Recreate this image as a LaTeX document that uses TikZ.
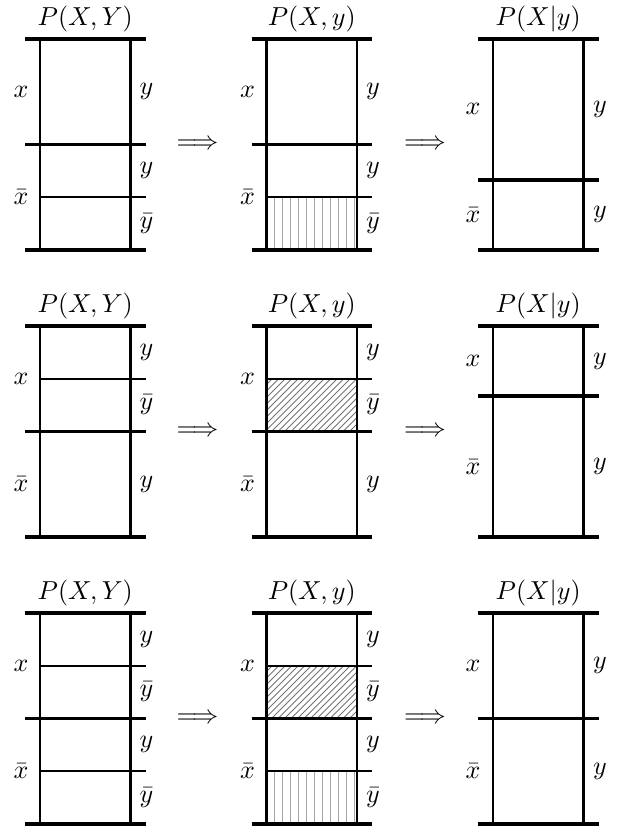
\documentclass[tikz,border=0pt]{standalone}
\begin{document}
\begin{tikzpicture}[x=0.3846pt,y=-0.3846pt,
  bar/.style={line width=1.4pt},
  side/.style={line width=1.1pt},
  innerline/.style={line width=0.7pt},
  vhatch/.style={black!35,line width=0.4pt},
  dhatch/.style={black!55,line width=0.35pt},
  lbl/.style={inner sep=0pt},
  ttl/.style={anchor=base,inner sep=0pt},
  arr/.style={inner sep=0pt}]
\useasboundingbox (0,0) rectangle (621,831);

% ================= ROW 1 =================
\begin{scope}[shift={(0,39)}]
  % panel 1
  \node[ttl] (t11) at (85.25,-13.5) {$P(X,Y)$};
  \draw[side] (40,0)--(40,211) (130.5,0)--(130.5,211);
  \draw[bar] (25,0)--(145.5,0) (25,105.5)--(145.5,105.5) (25,211)--(145.5,211);
  \draw[innerline] (40,158.25)--(145.5,158.25);
  \node[lbl] (l11a) at (21,52.75) {$x$};
  \node[lbl] (l11b) at (21,158.25) {$\bar{x}$};
  \node[lbl] (r11a) at (146.5,52.75) {$y$};
  \node[lbl] (r11b) at (146.5,131.9) {$y$};
  \node[lbl] (r11c) at (146.5,184.6) {$\bar{y}$};
  \node[arr] (a11) at (197.5,105.5) {$\Longrightarrow$};
  \node[arr] (a12) at (425,105.5) {$\Longrightarrow$};
  % panel 2
  \begin{scope}[shift={(226.5,0)}]
    \foreach \i in {8,16,...,88} \draw[vhatch] (40+\i,158.25)--(40+\i,211);
    \node[ttl] (t12) at (85.25,-13.5) {$P(X,y)$};
    \draw[side] (40,0)--(40,211) (130.5,0)--(130.5,211);
    \draw[bar] (25,0)--(145.5,0) (25,105.5)--(145.5,105.5) (25,211)--(145.5,211);
    \draw[innerline] (40,158.25)--(145.5,158.25);
    \node[lbl] (l12a) at (21,52.75) {$x$};
    \node[lbl] (l12b) at (21,158.25) {$\bar{x}$};
    \node[lbl] (r12a) at (146.5,52.75) {$y$};
    \node[lbl] (r12b) at (146.5,131.9) {$y$};
    \node[lbl] (r12c) at (146.5,184.6) {$\bar{y}$};
  \end{scope}
  % panel 3
  \begin{scope}[shift={(453,0)}]
    \node[ttl] (t13) at (85.25,-13.5) {$P(X|y)$};
    \draw[side] (40,0)--(40,211) (130.5,0)--(130.5,211);
    \draw[bar] (25,0)--(145.5,0) (25,140.7)--(145.5,140.7) (25,211)--(145.5,211);
    \node[lbl] (l13a) at (20,70.3) {$x$};
    \node[lbl] (l13b) at (20,175.8) {$\bar{x}$};
    \node[lbl] (r13a) at (147,70.3) {$y$};
    \node[lbl] (r13b) at (147,175.8) {$y$};
  \end{scope}
\end{scope}

% ================= ROW 2 =================
\begin{scope}[shift={(0,326)}]
  % panel 1
  \node[ttl] (t21) at (85.25,-13.5) {$P(X,Y)$};
  \draw[side] (40,0)--(40,211) (130.5,0)--(130.5,211);
  \draw[bar] (25,0)--(145.5,0) (25,105.5)--(145.5,105.5) (25,211)--(145.5,211);
  \draw[innerline] (40,52.75)--(145.5,52.75);
  \node[lbl] (l21a) at (21,52.75) {$x$};
  \node[lbl] (l21b) at (21,158.25) {$\bar{x}$};
  \node[lbl] (r21a) at (146.5,26.4) {$y$};
  \node[lbl] (r21b) at (146.5,79.1) {$\bar{y}$};
  \node[lbl] (r21c) at (146.5,158.25) {$y$};
  \node[arr] (a21) at (197.5,105.5) {$\Longrightarrow$};
  \node[arr] (a22) at (425,105.5) {$\Longrightarrow$};
  % panel 2
  \begin{scope}[shift={(226.5,0)}]
    \begin{scope}
      \clip (40,52.75) rectangle (130.5,105.5);
      \foreach \i in {-60,-53.5,...,96} \draw[dhatch] (40+\i,105.5)--++(60,-60);
    \end{scope}
    \node[ttl] (t22) at (85.25,-13.5) {$P(X,y)$};
    \draw[side] (40,0)--(40,211) (130.5,0)--(130.5,211);
    \draw[bar] (25,0)--(145.5,0) (25,105.5)--(145.5,105.5) (25,211)--(145.5,211);
    \draw[innerline] (40,52.75)--(145.5,52.75);
    \node[lbl] (l22a) at (21,52.75) {$x$};
    \node[lbl] (l22b) at (21,158.25) {$\bar{x}$};
    \node[lbl] (r22a) at (146.5,26.4) {$y$};
    \node[lbl] (r22b) at (146.5,79.1) {$\bar{y}$};
    \node[lbl] (r22c) at (146.5,158.25) {$y$};
  \end{scope}
  % panel 3
  \begin{scope}[shift={(453,0)}]
    \node[ttl] (t23) at (85.25,-13.5) {$P(X|y)$};
    \draw[side] (40,0)--(40,211) (130.5,0)--(130.5,211);
    \draw[bar] (25,0)--(145.5,0) (25,70.3)--(145.5,70.3) (25,211)--(145.5,211);
    \node[lbl] (l23a) at (20,35.2) {$x$};
    \node[lbl] (l23b) at (20,140.7) {$\bar{x}$};
    \node[lbl] (r23a) at (147,35.2) {$y$};
    \node[lbl] (r23b) at (147,140.7) {$y$};
  \end{scope}
\end{scope}

% ================= ROW 3 =================
\begin{scope}[shift={(0,613)}]
  % panel 1
  \node[ttl] (t31) at (85.25,-13.5) {$P(X,Y)$};
  \draw[side] (40,0)--(40,211) (130.5,0)--(130.5,211);
  \draw[bar] (25,0)--(145.5,0) (25,105.5)--(145.5,105.5) (25,211)--(145.5,211);
  \draw[innerline] (40,52.75)--(145.5,52.75) (40,158.25)--(145.5,158.25);
  \node[lbl] (l31a) at (21,52.75) {$x$};
  \node[lbl] (l31b) at (21,158.25) {$\bar{x}$};
  \node[lbl] (r31a) at (146.5,26.4) {$y$};
  \node[lbl] (r31b) at (146.5,79.1) {$\bar{y}$};
  \node[lbl] (r31c) at (146.5,131.9) {$y$};
  \node[lbl] (r31d) at (146.5,184.6) {$\bar{y}$};
  \node[arr] (a31) at (197.5,105.5) {$\Longrightarrow$};
  \node[arr] (a32) at (425,105.5) {$\Longrightarrow$};
  % panel 2
  \begin{scope}[shift={(226.5,0)}]
    \begin{scope}
      \clip (40,52.75) rectangle (130.5,105.5);
      \foreach \i in {-60,-53.5,...,96} \draw[dhatch] (40+\i,105.5)--++(60,-60);
    \end{scope}
    \foreach \i in {8,16,...,88} \draw[vhatch] (40+\i,158.25)--(40+\i,211);
    \node[ttl] (t32) at (85.25,-13.5) {$P(X,y)$};
    \draw[side] (40,0)--(40,211) (130.5,0)--(130.5,211);
    \draw[bar] (25,0)--(145.5,0) (25,105.5)--(145.5,105.5) (25,211)--(145.5,211);
    \draw[innerline] (40,52.75)--(145.5,52.75) (40,158.25)--(145.5,158.25);
    \node[lbl] (l32a) at (21,52.75) {$x$};
    \node[lbl] (l32b) at (21,158.25) {$\bar{x}$};
    \node[lbl] (r32a) at (146.5,26.4) {$y$};
    \node[lbl] (r32b) at (146.5,79.1) {$\bar{y}$};
    \node[lbl] (r32c) at (146.5,131.9) {$y$};
    \node[lbl] (r32d) at (146.5,184.6) {$\bar{y}$};
  \end{scope}
  % panel 3
  \begin{scope}[shift={(453,0)}]
    \node[ttl] (t33) at (85.25,-13.5) {$P(X|y)$};
    \draw[side] (40,0)--(40,211) (130.5,0)--(130.5,211);
    \draw[bar] (25,0)--(145.5,0) (25,105.5)--(145.5,105.5) (25,211)--(145.5,211);
    \node[lbl] (l33a) at (20,52.75) {$x$};
    \node[lbl] (l33b) at (20,158.25) {$\bar{x}$};
    \node[lbl] (r33a) at (147,52.75) {$y$};
    \node[lbl] (r33b) at (147,158.25) {$y$};
  \end{scope}
\end{scope}
\end{tikzpicture}
\end{document}
